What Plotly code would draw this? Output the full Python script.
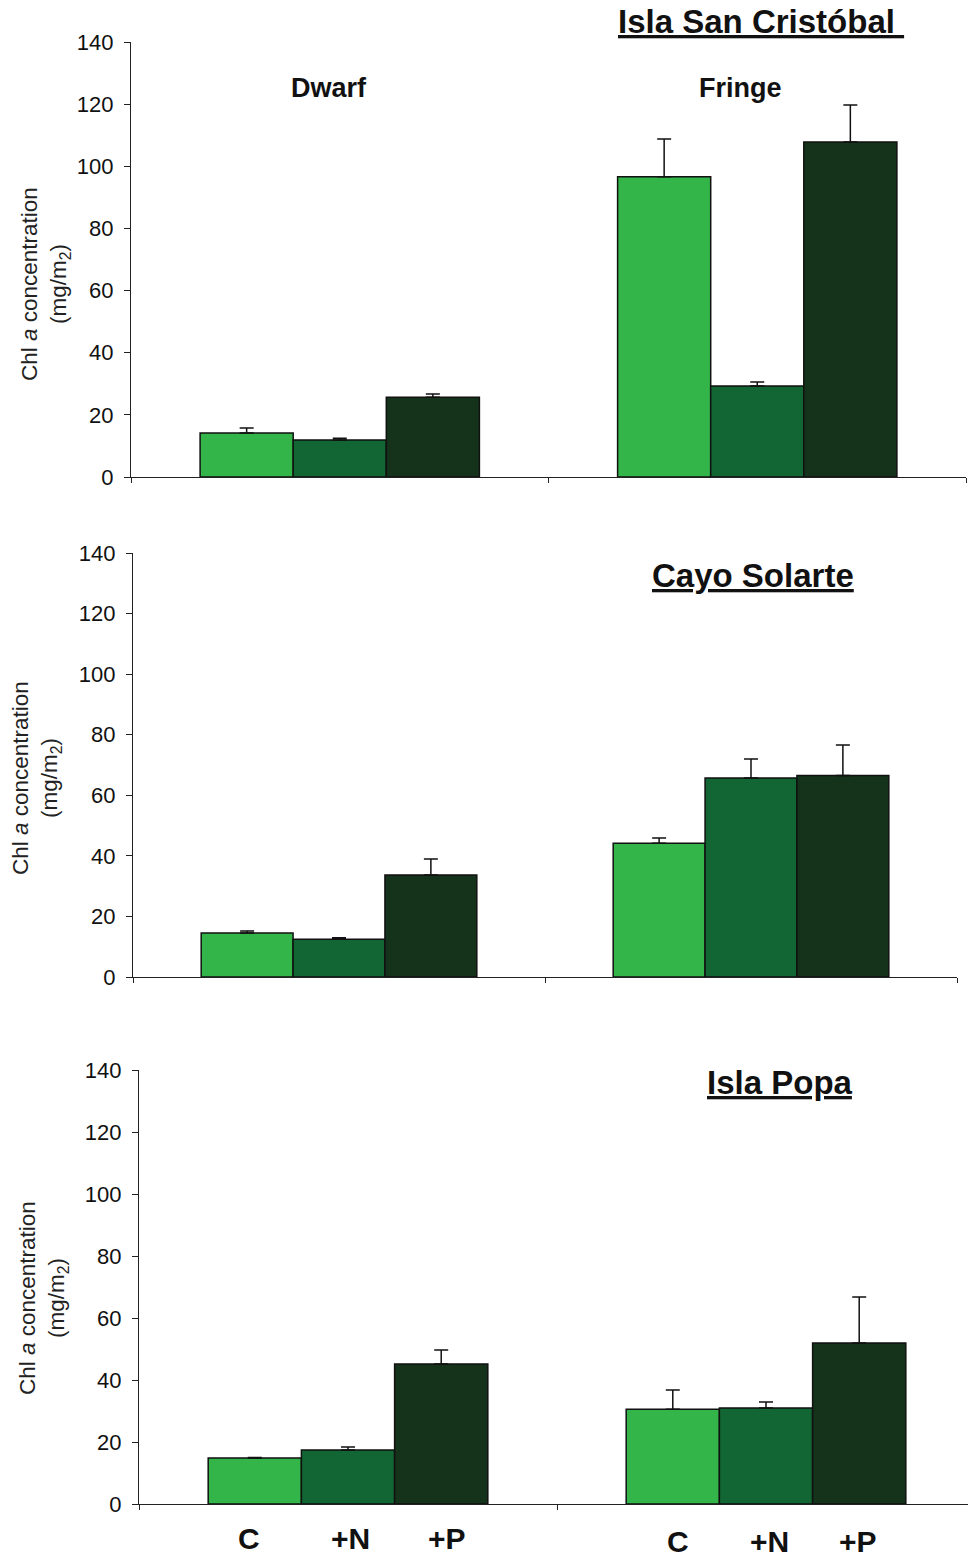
import plotly.graph_objects as go

W, H = 968, 1558

panel_titles = ["Isla San Cristóbal ", "Cayo Solarte", "Isla Popa"]
sites = ["Dwarf", "Fringe"]
treatments = ["C", "+N", "+P"]
colors = ["#33B54A", "#116634", "#15331A"]

# means (mg/m2), order per site: C, +N, +P
sc_dwarf_mean = [14.2, 11.9, 25.7]
sc_fringe_mean = [96.6, 29.3, 107.8]
cs_dwarf_mean = [14.5, 12.5, 33.7]
cs_fringe_mean = [44.2, 65.7, 66.5]
ip_dwarf_mean = [14.8, 17.4, 45.2]
ip_fringe_mean = [30.6, 31.0, 51.9]

# standard errors (upper bars only)
sc_dwarf_se = [1.6, 0.6, 1.0]
sc_fringe_se = [12.2, 1.3, 11.9]
cs_dwarf_se = [0.7, 0.5, 5.3]
cs_fringe_se = [1.7, 6.3, 10.1]
ip_dwarf_se = [0.2, 1.0, 4.5]
ip_fringe_se = [6.2, 1.9, 14.9]

y_ticks = [0, 20, 40, 60, 80, 100, 120, 140]

panels = [
    (sc_dwarf_mean, sc_fringe_mean, sc_dwarf_se, sc_fringe_se),
    (cs_dwarf_mean, cs_fringe_mean, cs_dwarf_se, cs_fringe_se),
    (ip_dwarf_mean, ip_fringe_mean, ip_dwarf_se, ip_fringe_se),
]

# layout geometry in pixels (left, right, top, bottom), right of full axis
geom = [(131, 966, 42, 477), (133, 957, 553, 977), (139, 975, 1070, 1504)]
bw = 0.223
FONT = "Liberation Sans, Arial, sans-serif"

fig = go.Figure()
layout = dict(
    template="none",
    width=W, height=H, margin=dict(l=0, r=0, t=0, b=0, pad=0), autosize=False,
    paper_bgcolor="white", plot_bgcolor="white", showlegend=False,
    barmode="overlay", font=dict(family=FONT, color="#111"),
    annotations=[],
)

for p, (dm, fm, ds, fs) in enumerate(panels):
    sfx = "" if p == 0 else str(p + 1)
    xa, ya = "x" + sfx, "y" + sfx
    for i, t in enumerate(treatments):
        xs = [g + (i - 1) * bw for g in range(len(sites))]
        fig.add_trace(go.Bar(
            x=xs, y=[dm[i], fm[i]], width=bw, name=t,
            marker=dict(color=colors[i], line=dict(color="#111", width=1.5)),
            error_y=dict(type="data", symmetric=False, array=[ds[i], fs[i]],
                         arrayminus=[0, 0], color="#111", thickness=1.5, width=7),
            xaxis=xa, yaxis=ya,
        ))
    l, r, t, b = geom[p]
    right_px = min(r, W)
    full = (r - l)
    xmax = -0.5 + 2.0 * (right_px - l) / full
    layout["xaxis" + sfx] = dict(
        domain=[l / W, right_px / W], range=[-0.5, xmax], anchor=ya, automargin=False,
        showgrid=False, zeroline=False, showline=True, linecolor="#222", linewidth=1.2,
        tickmode="array", tickvals=[-0.5, 0.5, 1.5], showticklabels=False,
        ticks="outside", ticklen=5, tickcolor="#222", tickwidth=1,
    )
    layout["yaxis" + sfx] = dict(
        domain=[1 - b / H, 1 - t / H], range=[0, 140], anchor=xa, automargin=False,
        showgrid=False, zeroline=False, showline=True, linecolor="#222", linewidth=1.2,
        tickmode="array", tickvals=y_ticks, ticks="outside", ticklen=6,
        tickcolor="#222", tickwidth=1, ticklabelstandoff=6,
        tickfont=dict(family=FONT, size=22, color="#111"),
    )

ann = layout["annotations"]
# panel titles
title_pos = [(761, 22), (753, 575), (780, 1082)]
for txt, (x, y) in zip(panel_titles, title_pos):
    ann.append(dict(text="<b><u>" + txt + "</u></b>", x=x / W, y=1 - y / H,
                    xref="paper", yref="paper", showarrow=False,
                    xanchor="center", yanchor="middle",
                    font=dict(family=FONT, size=33, color="#111")))
# site labels in first panel
for txt, x in zip(sites, [329, 740]):
    ann.append(dict(text="<b>" + txt + "</b>", x=x / W, y=1 - 88 / H,
                    xref="paper", yref="paper", showarrow=False,
                    xanchor="center", yanchor="middle",
                    font=dict(family=FONT, size=27, color="#111")))
# y-axis titles
ytitle_pos = [(45, 284), (36, 778), (43, 1298)]
for (x, y) in ytitle_pos:
    ann.append(dict(text="Chl <i>a</i> concentration<br>(mg/m<sub>2</sub>)",
                    x=x / W, y=1 - y / H, xref="paper", yref="paper",
                    showarrow=False, textangle=-90, xanchor="center", yanchor="middle",
                    font=dict(family=FONT, size=22.5, color="#222")))
# treatment labels under bottom panel
label_y = [1538, 1541]
label_xshift = [[-6, 2, 6], [5, 3, -1]]
for g in range(len(sites)):
    for i, t in enumerate(treatments):
        ann.append(dict(text="<b>" + t + "</b>", x=g + (i - 1) * bw,
                        xshift=label_xshift[g][i],
                        y=1 - label_y[g] / H, xref="x3", yref="paper",
                        showarrow=False, xanchor="center", yanchor="middle",
                        font=dict(family=FONT, size=30, color="#111")))

fig.update_layout(**layout)
fig.write_html("out.html", config={"displayModeBar": False},
               post_script="document.body.style.margin='0';document.body.style.overflow='hidden';")
